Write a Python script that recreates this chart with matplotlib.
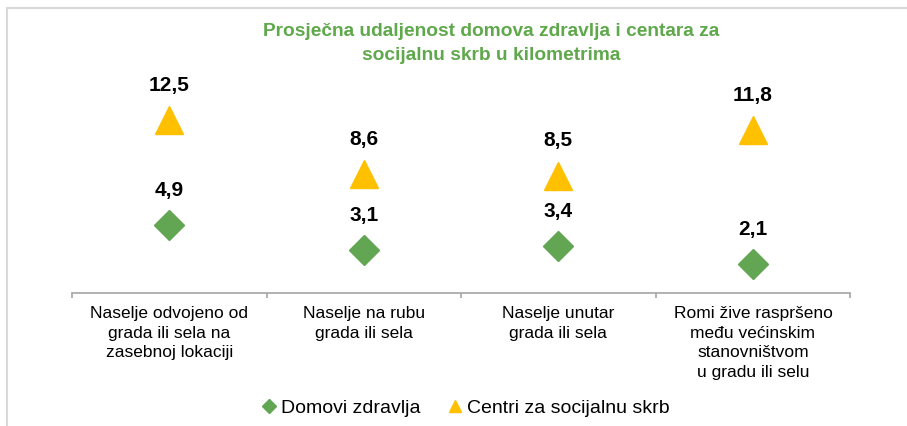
import numpy as np
import matplotlib.pyplot as plt
from matplotlib.lines import Line2D

plt.rcParams['font.family'] = ['Liberation Sans', 'DejaVu Sans']

# DATA
categories = [
    "Naselje odvojeno od\ngrada ili sela na\nzasebnoj lokaciji",
    "Naselje na rubu\ngrada ili sela",
    "Naselje unutar\ngrada ili sela",
    "Romi žive raspršeno\nmeđu većinskim\nstanovništvom\nu gradu ili selu",
]
domovi = [4.9, 3.1, 3.4, 2.1]
centri = [12.5, 8.6, 8.5, 11.8]
series_names = ["Domovi zdravlja", "Centri za socijalnu skrb"]

green = '#62A553'
yellow = '#FFC000'

fig = plt.figure(figsize=(9.07, 4.26), dpi=100)
ax = fig.add_axes([0.0794, 0.312, 0.858, 0.519])

x = np.arange(len(categories))
ax.plot(x, domovi, linestyle='none', marker='D', markersize=15.5, color=green)
ax.plot(x, centri, linestyle='none', marker='^', markersize=19.5, color=yellow)

def fmt(v):
    return f"{v:.1f}".replace('.', ',')

for xi, v in zip(x, domovi):
    ax.annotate(fmt(v), (xi, v), xytext=(0, 25), textcoords='offset points',
                ha='center', va='center', fontsize=15, fontweight='bold')
for xi, v in zip(x, centri):
    ax.annotate(fmt(v), (xi, v), xytext=(0, 25), textcoords='offset points',
                ha='center', va='center', fontsize=15, fontweight='bold')

ax.set_xlim(-0.5, len(categories) - 0.5)
ax.set_ylim(0, 16)
ax.set_yticks([])
for s in ['top', 'right', 'left']:
    ax.spines[s].set_visible(False)
ax.spines['bottom'].set_color('#A6A6A6')
ax.spines['bottom'].set_linewidth(1.2)

# separators between categories
ax.set_xticks(np.arange(len(categories) + 1) - 0.5)
ax.set_xticklabels([])
ax.tick_params(axis='x', length=3.5, color='#A6A6A6', width=1.2, direction='out')
for xi, lab in zip(x, categories):
    ax.text(xi, -0.95, lab, ha='center', va='top', fontsize=12.5, linespacing=1.38)

fig.text(0.542, 0.898, "Prosječna udaljenost domova zdravlja i centara za\nsocijalnu skrb u kilometrima",
         ha='center', va='center', fontsize=13.8, fontweight='bold', color='#5FA84B',
         linespacing=1.6)

handles = [
    Line2D([], [], linestyle='none', marker='D', markersize=7, color=green),
    Line2D([], [], linestyle='none', marker='^', markersize=9, color=yellow),
]
fig.legend(handles, series_names, loc='center', bbox_to_anchor=(0.514, 0.042), ncol=2,
           frameon=False, fontsize=14, handlelength=0.6, handletextpad=0.3,
           columnspacing=1.5)

# chart border (top and left visible)
fig.add_artist(Line2D([7 / 907, 7 / 907], [0, 1 - 8 / 426], color='#D9D9D9', lw=1.5,
                      transform=fig.transFigure))
fig.add_artist(Line2D([7 / 907, 1], [1 - 8 / 426, 1 - 8 / 426], color='#D9D9D9', lw=1.5,
                      transform=fig.transFigure))

fig.savefig('out.png', dpi=100)
